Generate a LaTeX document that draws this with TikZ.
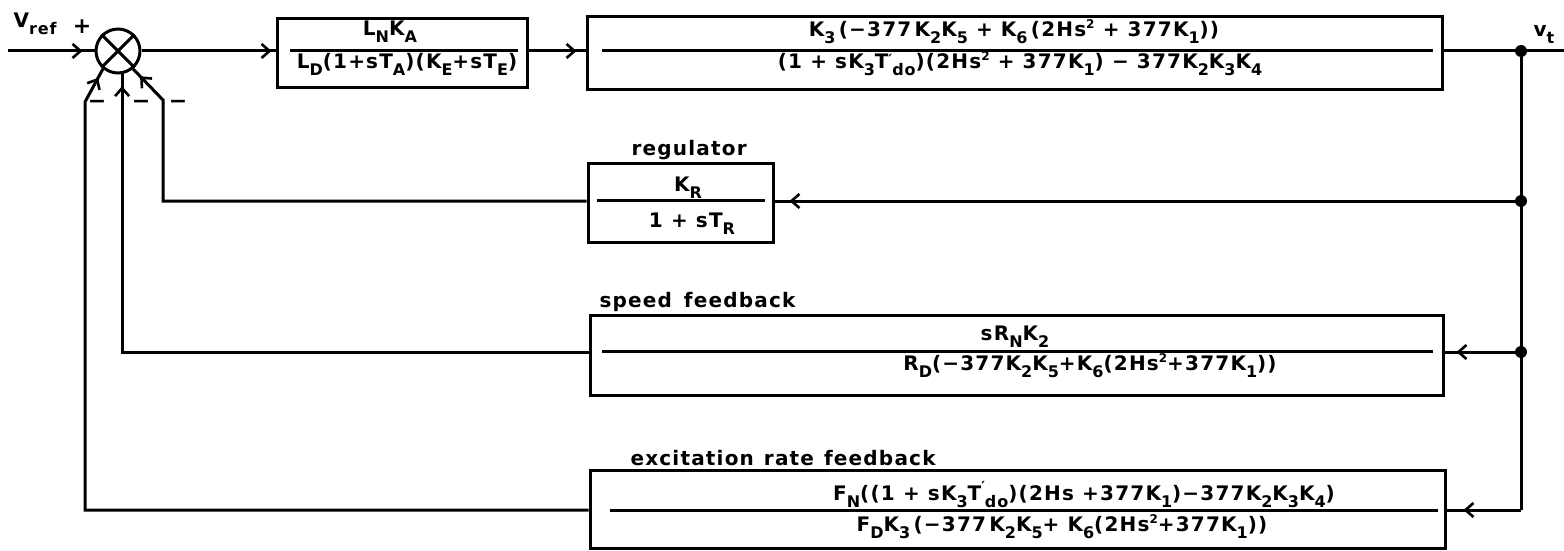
\documentclass[tikz,border=0pt]{standalone}
\usepackage{fontspec}
\setmainfont{DejaVu Sans}[LetterSpace=6]
\usetikzlibrary{arrows.meta,decorations.markings}
\newcommand\dn[1]{\raisebox{-7pt}{\fontsize{16}{16}\selectfont #1}}
\newcommand\up[1]{\raisebox{8pt}{\fontsize{12}{12}\selectfont #1}}
\newcommand\pr[1][9pt]{\raisebox{#1}{\fontsize{14}{14}\selectfont\char"2032}}
\begin{document}
\begin{tikzpicture}[x=1pt,y=-1pt,
  every node/.style={font=\fontsize{20}{24}\selectfont\bfseries},
  wire/.style={line width=3pt, line join=miter},
  blk/.style={draw, line width=3pt, rectangle, inner sep=0pt},
  frac/.style={line width=3pt},
  dot/.style={circle, fill, inner sep=0pt, minimum size=12pt},
  lbl/.style={anchor=base},
  tipat/.style={postaction={decorate},decoration={markings,
     mark=at position #1 with {\arrow[line width=2.6pt]{Straight Barb[length=8pt,width=14pt]}}}}]
\useasboundingbox (0,0) rectangle (1564,551);

% summing junction
\node[circle, draw, line width=3pt, minimum size=44pt, inner sep=0pt] (sum) at (118,51) {};
\draw[line width=3pt] (sum.45) -- (sum.225) (sum.135) -- (sum.315);

% blocks
\node[blk, minimum width=250pt, minimum height=69pt] (b1) at (402,53.5) {};
\node[blk, minimum width=855pt, minimum height=73pt] (b2) at (1014.5,53.5) {};
\node[blk, minimum width=185pt, minimum height=79pt] (reg) at (680.5,202.5) {};
\node[blk, minimum width=853pt, minimum height=80pt] (spd) at (1016.5,355) {};
\node[blk, minimum width=855pt, minimum height=78pt] (exc) at (1017.5,509) {};

% fraction bars
\draw[frac] (290,51) -- (518,51);
\draw[frac] (602,51) -- (1433,51);
\draw[frac] (597,200) -- (765,200);
\draw[frac] (602,351) -- (1433,351);
\draw[frac] (610,510) -- (1438,510);

% fraction texts
\node[lbl] (b1n) at (390,36) {L\dn{N}K\dn{A}};
\node[lbl] (b1d) at (407,69) {L\dn{D}(1+sT\dn{A})(K\dn{E}+sT\dn{E})};
\node[lbl] (b2n) at (1014,37) {K\dn{3}\,(−377\,K\dn{2}K\dn{5} + K\dn{6}\,(2Hs\up{2} + 377K\dn{1}))};
\node[lbl] (b2d) at (1020,69) {(1 + sK\dn{3}T\pr[4pt]\dn{do})(2Hs\up{2} + 377K\dn{1}) − 377K\dn{2}K\dn{3}K\dn{4}};
\node[lbl] (regn) at (688,191) {K\dn{R}};
\node[lbl] (regd) at (692,227) {1 + sT\dn{R}};
\node[lbl] (spdn) at (1015,340) {sR\dn{N}K\dn{2}};
\node[lbl] (spdd) at (1090,370) {R\dn{D}(−377K\dn{2}K\dn{5}+K\dn{6}(2Hs\up{2}+377K\dn{1}))};
\node[lbl] (excn) at (1084,500) {F\dn{N}((1 + sK\dn{3}T\pr\dn{do})(2Hs +377K\dn{1})−377K\dn{2}K\dn{3}K\dn{4})};
\node[lbl] (excd) at (1062,531) {F\dn{D}K\dn{3}\,(−377\,K\dn{2}K\dn{5}+ K\dn{6}(2Hs\up{2}+377K\dn{1}))};

% labels
\node[anchor=base west] (lreg) at (628,155) {regulator};
\node[anchor=base west] (lspd) at (596,307) {speed\hspace{0.6em}feedback};
\node[anchor=base west] (lexc) at (627,465) {excitation\hspace{0.5em}rate\hspace{0.5em}feedback};
\node[anchor=base west] (vref) at (10,28) {V\dn{ref}};
\node[anchor=base, font=\fontsize{22}{24}\selectfont\bfseries] (plus) at (82,34) {+};
\node[anchor=base west] (vt) at (1530,37) {v\dn{t}};
\node[font=\fontsize{22}{24}\selectfont\bfseries] (m1) at (97,104) {−};
\node[font=\fontsize{22}{24}\selectfont\bfseries] (m2) at (141,104) {−};
\node[font=\fontsize{22}{24}\selectfont\bfseries] (m3) at (178,104) {−};

% coordinates and junctions
\coordinate (vin) at (8,51);
\coordinate (vend) at (1564,51);
\node[dot] (j0) at (1521,51) {};
\node[dot] (j1) at (1521,201) {};
\node[dot] (j2) at (1521,352) {};
\coordinate (jb) at (1521,510);
\coordinate (k1) at (163,201);
\coordinate (k1b) at (163,100);
\coordinate (k3) at (85,510);
\coordinate (k3b) at (85,102);

% forward path
\draw[wire, tipat=-12pt] (vin) -- (sum.west);
\draw[wire, tipat=-4pt] (sum.east) -- (sum.east -| b1.west);
\draw[wire, tipat=-9pt] (b1.east |- sum.east) -- (sum.east -| b2.west);
\draw[wire] (b2.east |- sum.east) -- (vend);
\draw[wire] (j0.center) -- (jb);

% feedback paths
\draw[wire, tipat=-15pt] (j1.center) -- (j1 -| reg.east);
\draw[wire, tipat=-12pt] (j2.center) -- (j2 -| spd.east);
\draw[wire, tipat=-17pt] (jb) -- (jb -| exc.east);
\draw[wire, tipat=-10pt] (j1 -| reg.west) -- (k1) -- (k1b) -- (sum.-50);
\draw[wire, tipat=-12pt] (j2 -| spd.west) -- (sum.-80 |- j2) -- (sum.-80);
\draw[wire, tipat=-10pt] (jb -| exc.west) -- (k3) -- (k3b) -- (sum.-130);
\end{tikzpicture}
\end{document}
